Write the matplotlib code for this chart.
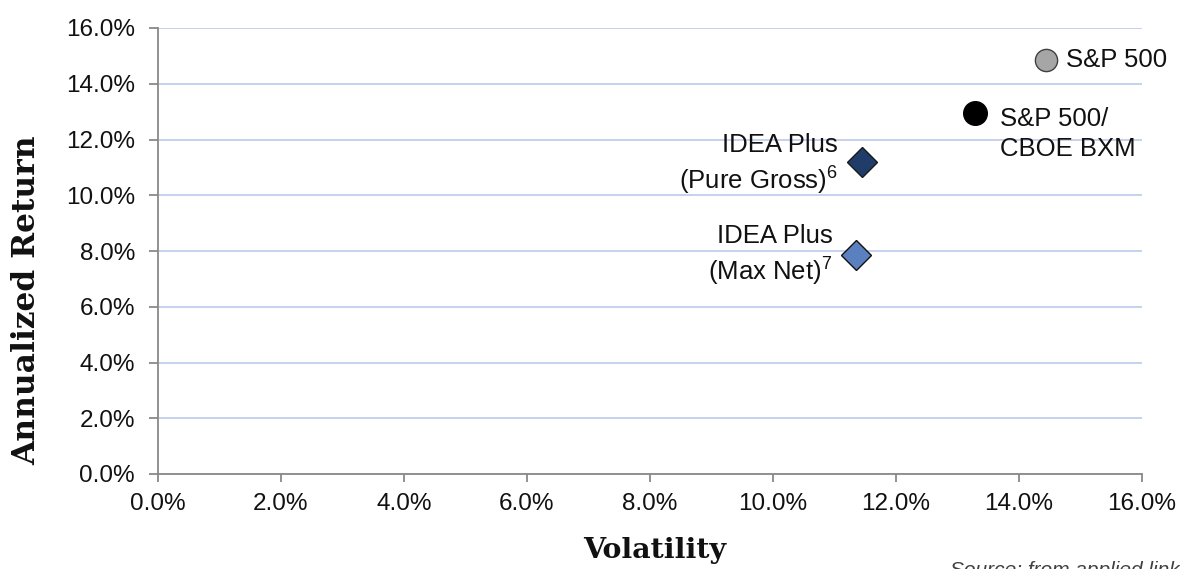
import matplotlib
matplotlib.use("Agg")
import matplotlib.pyplot as plt
from matplotlib.ticker import FuncFormatter

# ---- data ----
names = ["S&P 500", "S&P 500/\nCBOE BXM", "IDEA Plus\n(Pure Gross)$^{6}$", "IDEA Plus\n(Max Net)$^{7}$"]
volatility = [14.44, 13.28, 11.44, 11.35]   # %
ann_return = [14.85, 12.94, 11.18, 7.86]    # %
markers = ["o", "o", "D", "D"]
face_colors = ["#a6a6a6", "#000000", "#1f3d68", "#5b80bf"]
edge_colors = ["#404040", "#000000", "#1a1a1a", "#111111"]
marker_sizes = [16, 17, 15.5, 15.5]
label_offsets = [(14, 0), (18, -15), (-17, -2), (-17, -1)]
label_ha = ["left", "left", "right", "right"]
tick_values = [0, 2, 4, 6, 8, 10, 12, 14, 16]

plt.rcParams["font.family"] = ["Liberation Sans", "DejaVu Sans"]
plt.rcParams["mathtext.fontset"] = "custom"
plt.rcParams["mathtext.rm"] = "Liberation Sans"
plt.rcParams["mathtext.it"] = "Liberation Sans:italic"
plt.rcParams["mathtext.bf"] = "Liberation Sans:bold"

fig = plt.figure(figsize=(11.8, 5.69), dpi=100)
ax = fig.add_axes([158 / 1180, 1 - 474 / 569, (1142 - 158) / 1180, (474 - 28) / 569])

ax.set_xlim(tick_values[0], tick_values[-1])
ax.set_ylim(tick_values[0], tick_values[-1])
ax.set_xticks(tick_values)
ax.set_yticks(tick_values)
fmt = FuncFormatter(lambda v, p: f"{v:.1f}%")
ax.xaxis.set_major_formatter(fmt)
ax.yaxis.set_major_formatter(fmt)

ax.grid(axis="y", color="#b4c7e7", linewidth=1.1)
ax.set_axisbelow(True)
for s in ["top", "right"]:
    ax.spines[s].set_visible(False)
for s in ["left", "bottom"]:
    ax.spines[s].set_color("#898989")
    ax.spines[s].set_linewidth(1.3)
ax.tick_params(axis="both", direction="out", color="#898989", width=1.3,
               labelsize=17.5, labelcolor="#111111")
ax.tick_params(axis="y", length=6.5, pad=10)
ax.tick_params(axis="x", length=5.5, pad=8)

for i in range(len(names)):
    ax.plot(volatility[i], ann_return[i], marker=markers[i], markersize=marker_sizes[i],
            markerfacecolor=face_colors[i], markeredgecolor=edge_colors[i],
            markeredgewidth=1.0, linestyle="none", clip_on=False, zorder=3)
    ax.annotate(names[i], xy=(volatility[i], ann_return[i]), xytext=label_offsets[i],
                textcoords="offset points", ha=label_ha[i], va="center",
                multialignment=label_ha[i], fontsize=18.5, color="#111111",
                linespacing=1.3, annotation_clip=False)

fig.text(27 / 1180, 1 - 300 / 569, "Annualized Return", rotation=90, ha="center", va="center",
         family="DejaVu Serif", fontweight="bold", fontsize=22.5, color="#111111")
fig.text(655 / 1180, 1 - 551 / 569, "Volatility", ha="center", va="center",
         family="DejaVu Serif", fontweight="bold", fontsize=20.5, color="#111111")
fig.text(950 / 1180, 1 - 561 / 569, "Source: from applied link", ha="left", va="top",
         style="italic", fontsize=15, color="#404040")

fig.savefig("out.png", dpi=100)
